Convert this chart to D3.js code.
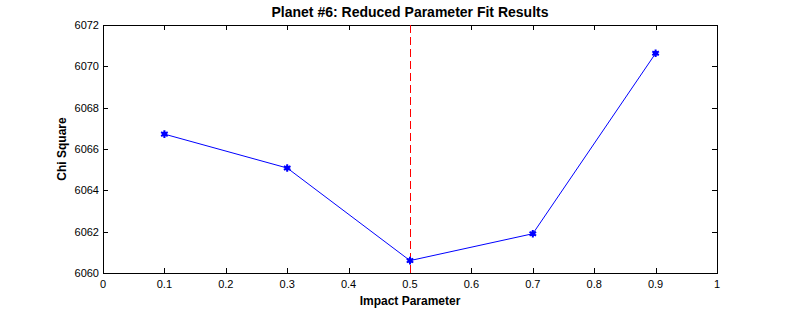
<!DOCTYPE html>
<html>
<head>
<meta charset="utf-8">
<script src="https://cdn.jsdelivr.net/npm/d3@7"></script>
<style>
  body { margin: 0; background: #fff; }
  svg { display: block; font-family: "Liberation Sans", Arial, sans-serif; }
</style>
</head>
<body>
<div id="chart"></div>
<script>
const impact = [0.1, 0.3, 0.5, 0.7, 0.9];
const chiSquare = [6066.72, 6065.08, 6060.6, 6061.9, 6070.63];
const bestImpact = 0.5;
const xTicks = [0, 0.1, 0.2, 0.3, 0.4, 0.5, 0.6, 0.7, 0.8, 0.9, 1];
const yTicks = [6060, 6062, 6064, 6066, 6068, 6070, 6072];

const width = 792, height = 313;
const margin = { top: 25, right: 75, bottom: 40, left: 103 };

const svg = d3.select("#chart").append("svg")
  .attr("width", width)
  .attr("height", height);

const x = d3.scaleLinear().domain([0, 1]).range([margin.left, width - margin.right]);
const y = d3.scaleLinear().domain([6060, 6072]).range([height - margin.bottom, margin.top]);

// axes box with inward ticks
const tick = 5;
const g = svg.append("g").attr("stroke", "#000").attr("stroke-width", 1).attr("shape-rendering", "crispEdges");
g.append("rect")
  .attr("x", x(0) + 0.5).attr("y", y(6072) + 0.5)
  .attr("width", x(1) - x(0)).attr("height", y(6060) - y(6072))
  .attr("fill", "none");

xTicks.forEach(t => {
  g.append("line").attr("x1", Math.round(x(t)) + 0.5).attr("x2", Math.round(x(t)) + 0.5)
    .attr("y1", y(6060)).attr("y2", y(6060) - tick);
  g.append("line").attr("x1", Math.round(x(t)) + 0.5).attr("x2", Math.round(x(t)) + 0.5)
    .attr("y1", y(6072)).attr("y2", y(6072) + tick);
});
yTicks.forEach(t => {
  g.append("line").attr("y1", Math.round(y(t)) + 0.5).attr("y2", Math.round(y(t)) + 0.5)
    .attr("x1", x(0)).attr("x2", x(0) + tick);
  g.append("line").attr("y1", Math.round(y(t)) + 0.5).attr("y2", Math.round(y(t)) + 0.5)
    .attr("x1", x(1)).attr("x2", x(1) - tick);
});

svg.append("g").selectAll("text").data(xTicks).join("text")
  .attr("x", d => x(d)).attr("y", y(6060) + 15)
  .attr("text-anchor", "middle").attr("font-size", 11)
  .text(d => d3.format("~g")(d));

svg.append("g").selectAll("text").data(yTicks).join("text")
  .attr("x", x(0) - 4).attr("y", d => y(d) + 4)
  .attr("text-anchor", "end").attr("font-size", 11)
  .text(d => d);

// best-fit marker line
svg.append("line")
  .attr("x1", Math.round(x(bestImpact)) + 0.5).attr("x2", Math.round(x(bestImpact)) + 0.5)
  .attr("y1", y(6072)).attr("y2", y(6060))
  .attr("stroke", "#ff0000").attr("stroke-width", 1)
  .attr("shape-rendering", "crispEdges")
  .attr("stroke-dasharray", "8,4");

const line = d3.line().x((d, i) => x(impact[i])).y(d => y(d));
svg.append("path")
  .datum(chiSquare)
  .attr("d", line)
  .attr("fill", "none")
  .attr("stroke", "#0000ff")
  .attr("stroke-width", 1);

svg.append("g").selectAll("path").data(chiSquare).join("path")
  .attr("transform", (d, i) => `translate(${x(impact[i])},${y(d)})`)
  .attr("d", d3.symbol(d3.symbolAsterisk, 40))
  .attr("fill", "#0000ff")
  .attr("stroke", "#0000ff")
  .attr("stroke-width", 2);
svg.append("g").selectAll("circle").data(chiSquare).join("circle")
  .attr("cx", (d, i) => x(impact[i])).attr("cy", d => y(d))
  .attr("r", 2.5).attr("fill", "#0000ff");

svg.append("text")
  .attr("x", (x(0) + x(1)) / 2).attr("y", 17)
  .attr("text-anchor", "middle").attr("font-size", 14).attr("font-weight", "bold")
  .text("Planet #6: Reduced Parameter Fit Results");

svg.append("text")
  .attr("x", (x(0) + x(1)) / 2).attr("y", 305)
  .attr("text-anchor", "middle").attr("font-size", 12).attr("font-weight", "bold")
  .text("Impact Parameter");

svg.append("text")
  .attr("transform", `translate(66,${(y(6060) + y(6072)) / 2}) rotate(-90)`)
  .attr("text-anchor", "middle").attr("font-size", 12).attr("font-weight", "bold")
  .text("Chi Square");
</script>
</body>
</html>
